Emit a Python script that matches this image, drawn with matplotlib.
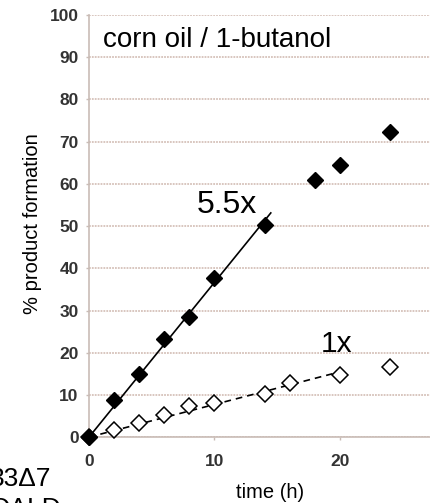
import matplotlib
matplotlib.use("Agg")
import matplotlib.pyplot as plt
import numpy as np

plt.rcParams["font.family"] = ["Liberation Sans", "DejaVu Sans"]

# filled diamonds (top series)
t_fast = [0, 2, 4, 6, 8, 10, 14, 18, 20, 24]
y_fast = [0, 8.9, 14.9, 23.3, 28.5, 37.6, 50.2, 60.9, 64.5, 72.2]
# open diamonds (bottom series)
t_slow = [0, 2, 4, 6, 8, 10, 14, 16, 20, 24]
y_slow = [0, 1.8, 3.4, 5.3, 7.3, 8.0, 10.2, 12.9, 14.6, 16.7]

# fit ranges
fast_fit_end = 14.5
slow_fit_end = 20

fig = plt.figure(figsize=(4.30, 5.03), dpi=100)
ax = fig.add_axes([0.207, 0.131, 0.793, 0.839])

ax.set_xlim(0, 27.2)
ax.set_ylim(0, 100)
ax.set_xticks([0, 10, 20])
ax.set_yticks(np.arange(0, 101, 10))
ax.tick_params(axis="y", length=2.5, width=1, color="#c9bcb6", labelsize=12.5, pad=5)
ax.tick_params(axis="x", length=2.5, width=1, color="#c9bcb6", labelsize=12.5, pad=10)
for lab in ax.get_xticklabels() + ax.get_yticklabels():
    lab.set_color("#333333")
    lab.set_fontweight("bold")

ax.grid(axis="y", color="#d6c2ba", linestyle=(0, (1, 0.6)), linewidth=1.3)
ax.set_axisbelow(True)
for s in ["top", "right"]:
    ax.spines[s].set_visible(False)
ax.spines["left"].set_color("#c9bcb6")
ax.spines["bottom"].set_color("#c9bcb6")
ax.spines["left"].set_linewidth(1.2)
ax.spines["bottom"].set_linewidth(1.2)

# linear fits
tf = np.array(t_fast[:7])
yf = np.array(y_fast[:7])
k_fast = np.sum(tf * yf) / np.sum(tf * tf)
xs = np.array([0, fast_fit_end])
ax.plot(xs, k_fast * xs, color="black", linewidth=1.2, zorder=3)

ts = np.array(t_slow[:9])
ys = np.array(y_slow[:9])
k_slow = np.sum(ts * ys) / np.sum(ts * ts)
xs2 = np.array([0, slow_fit_end])
ax.plot(xs2, k_slow * xs2, color="black", linewidth=1.2, linestyle=(0, (4, 3)), zorder=3)

ax.plot(t_slow, y_slow, linestyle="none", marker="D", markersize=8,
        markerfacecolor="white", markeredgecolor="black", markeredgewidth=1.1,
        zorder=4, clip_on=False)
ax.plot(t_fast, y_fast, linestyle="none", marker="D", markersize=8,
        color="black", zorder=5, clip_on=False)

ax.text(1.1, 92.4, "corn oil / 1-butanol", fontsize=20, ha="left", va="baseline")
ax.text(8.6, 53.1, "5.5x", fontsize=23, ha="left", va="baseline")
ax.text(18.5, 20.1, "1x", fontsize=21.5, ha="left", va="baseline")

ax.set_ylabel("% product formation", fontsize=14.5)
ax.yaxis.set_label_coords(-0.138, 0.507)
ax.set_xlabel("time (h)", fontsize=14.5, va="top")
ax.xaxis.set_label_coords(0.531, -0.109)

# clipped labels from the neighbouring panel
fig.text(-0.023, 0.034, "33\u03947", fontsize=19, ha="left", va="baseline")
fig.text(-0.023, -0.026, "OALD", fontsize=19, ha="left", va="baseline")

fig.savefig("out.png", dpi=100)
